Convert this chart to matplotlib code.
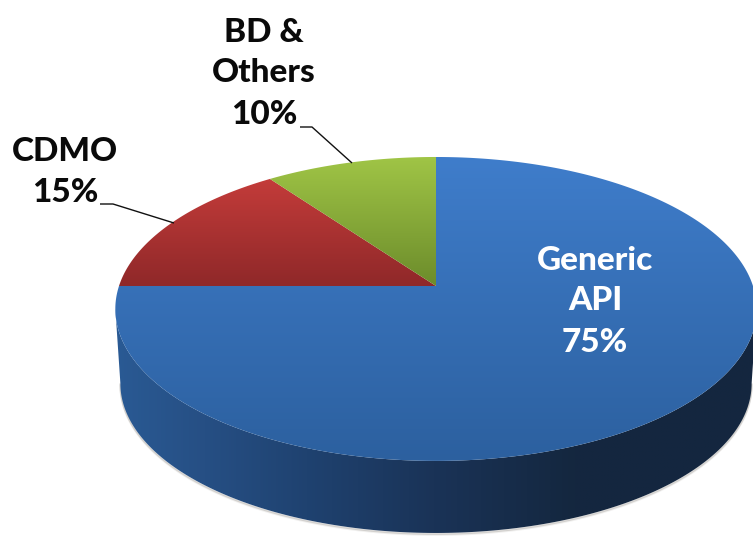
import numpy as np
import matplotlib
matplotlib.use("Agg")
import matplotlib.pyplot as plt
from matplotlib.colors import LinearSegmentedColormap
from matplotlib.patches import Polygon

# slice data, clockwise from 12 o'clock
labels = ["Generic\nAPI", "CDMO", "BD &\nOthers"]
values = [75, 15, 10]
top_colors = [("#3f7dcb", "#2c609f"), ("#c43c3a", "#8f2829"), ("#a0c546", "#6c8c2b")]
label_colors = ["white", "#0a0a0a", "#0a0a0a"]
label_pos = [(595, 301), (65, 172), (264, 73)]

# wall shade, left to right
wall_colors = ["#2a5a94", "#264f84", "#1f4270", "#1a3357", "#14273f", "#14263f"]
wall_stops = [0.0, 0.14, 0.3, 0.5, 0.72, 1.0]

# leader lines, in pixels
leaders = [[(100, 204), (113, 204), (174, 223)], [(300, 127), (312, 127), (352, 163)]]

cx, cy = 436, 286
b, a, k = 317, 148.5, 0.151
b2, a2, cy2 = 312, 146, 361


def project(theta, r=1.0, bb=b, aa=a, yy=cy):
    # theta measured clockwise from the back of the disc, perspective on the near side
    u = r * np.sin(theta)
    v = r * np.cos(theta)
    w = 1 + k * v
    return cx + bb * u / w, yy - aa * v / w


def gradient_fill(ax, verts, cmap, horizontal=False, extent=None, zorder=2):
    poly = Polygon(verts, closed=True, fc="none", ec="none", transform=ax.transData)
    ax.add_patch(poly)
    grad = np.linspace(0, 1, 256)
    grad = grad.reshape(1, -1) if horizontal else grad.reshape(-1, 1)
    im = ax.imshow(grad, cmap=cmap, extent=extent, aspect="auto", origin="lower" if horizontal else "upper",
                   interpolation="bilinear", zorder=zorder)
    im.set_clip_path(poly)


fig = plt.figure(figsize=(7.53, 5.36), dpi=100)
ax = fig.add_axes([0, 0, 1, 1])

# front wall
front = np.linspace(np.pi / 2 + 0.15, 3 * np.pi / 2 - 0.15, 300)
xt, yt = project(front)
xb, yb = project(front, bb=b2, aa=a2, yy=cy2)

# soft shadow under the wall
for off, alpha in [(2, 0.10), (1, 0.25)]:
    ax.plot(xb, yb + off, color="#77726a", lw=1.4, alpha=alpha, zorder=1)

wall = np.vstack([np.c_[xt, yt], np.c_[xb, yb][::-1]])
wall_cmap = LinearSegmentedColormap.from_list("wall", list(zip(wall_stops, wall_colors)))
gradient_fill(ax, wall[::-1], wall_cmap, horizontal=True, extent=(115, 753, 536, 280), zorder=2)

# top of the disc
start = 0.0
for value, colors in zip(values, top_colors):
    stop = start + value / sum(values) * 2 * np.pi
    theta = np.linspace(start, stop, 300)
    xs, ys = project(theta)
    verts = np.vstack([[cx, cy], np.c_[xs, ys]])
    cmap = LinearSegmentedColormap.from_list("top", colors)
    gradient_fill(ax, verts, cmap, extent=(100, 760, verts[:, 1].max(), verts[:, 1].min()), zorder=3)
    start = stop

for line in leaders:
    ax.plot(*zip(*line), color="#111111", lw=1.0, zorder=4, solid_capstyle="butt")

for label, value, color, (x, y) in zip(labels, values, label_colors, label_pos):
    ax.text(x, y, f"{label}\n{value}%", color=color, ha="center", va="center", family="Lato",
            fontweight=900, fontsize=24, linespacing=1.5, zorder=5)

ax.set_xlim(0, 753)
ax.set_ylim(536, 0)
ax.axis("off")
fig.savefig("out.png", dpi=100)
